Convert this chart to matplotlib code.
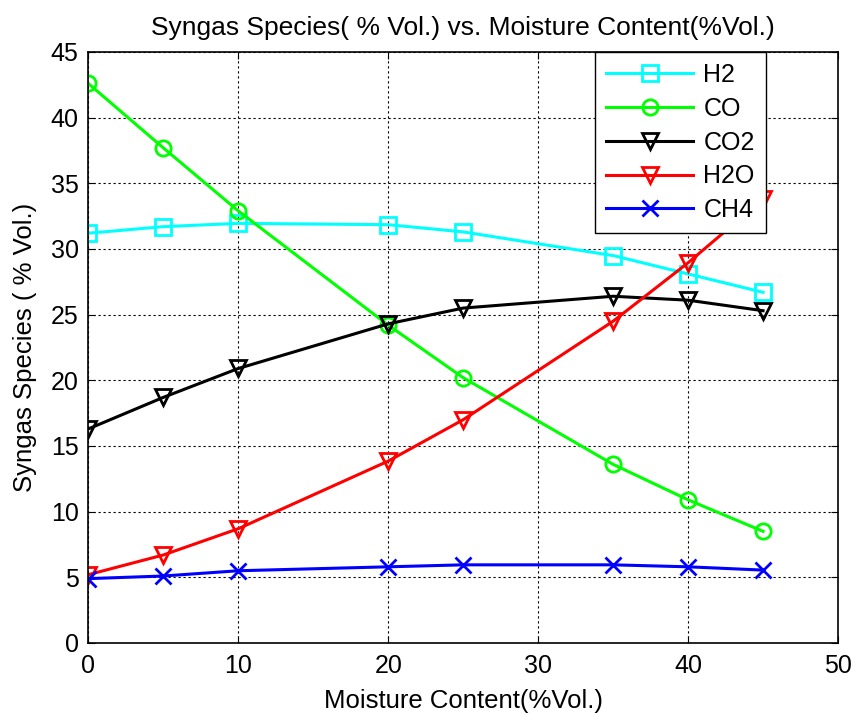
import matplotlib
matplotlib.use('Agg')
import matplotlib.pyplot as plt

# data
moisture = [0, 5, 10, 20, 25, 35, 40, 45]
h2 = [31.2, 31.7, 31.95, 31.85, 31.3, 29.5, 28.1, 26.7]
co = [42.6, 37.7, 32.9, 24.2, 20.2, 13.6, 10.9, 8.5]
co2 = [16.3, 18.7, 20.9, 24.3, 25.5, 26.4, 26.1, 25.3]
h2o = [5.2, 6.7, 8.7, 13.85, 17.0, 24.5, 28.95, 33.8]
ch4 = [4.9, 5.1, 5.5, 5.8, 5.95, 5.95, 5.8, 5.55]

plt.rcParams['font.family'] = ['Liberation Sans', 'DejaVu Sans']

fig = plt.figure(figsize=(8.54, 7.13), dpi=100, facecolor='white')
ax = fig.add_axes([0.1034, 0.0982, 0.8779, 0.8289])

style = dict(linewidth=2.2, markersize=11, markeredgewidth=2, fillstyle='none')
ax.plot(moisture, h2, color='#00ffff', marker='s', label='H2', **style)
ax.plot(moisture, co, color='#00ff00', marker='o', label='CO', **style)
ax.plot(moisture, co2, color='black', marker='v', label='CO2', **style)
ax.plot(moisture, h2o, color='red', marker='v', label='H2O', **style)
ax.plot(moisture, ch4, color='blue', marker='x', label='CH4', **style)

ax.set_xlim(0, 50)
ax.set_ylim(0, 45)
ax.set_xticks(range(0, 51, 10))
ax.set_yticks(range(0, 46, 5))
ax.grid(True, color='black', linestyle=(0, (2, 2.5)), linewidth=0.8)
ax.tick_params(direction='in', top=True, right=True, labelsize=18, length=5)
ax.tick_params(axis='x', pad=8)
ax.tick_params(axis='y', pad=7)
for s in ax.spines.values():
    s.set_linewidth(1.2)

ax.set_title('Syngas Species( % Vol.) vs. Moisture Content(%Vol.)', fontsize=19, pad=12)
ax.set_xlabel('Moisture Content(%Vol.)', fontsize=18.5, labelpad=8)
ax.set_ylabel('Syngas Species ( % Vol.)', fontsize=18.5, labelpad=10)

leg = ax.legend(loc='upper right', bbox_to_anchor=(0.904, 1.0), borderaxespad=0,
                fontsize=18, numpoints=1, fancybox=False, framealpha=1,
                edgecolor='black', handlelength=3.5, handletextpad=0.4,
                labelspacing=0.39, borderpad=0.45)
leg.get_frame().set_linewidth(1.0)
leg.set_zorder(10)

plt.savefig('out.png', dpi=100)
